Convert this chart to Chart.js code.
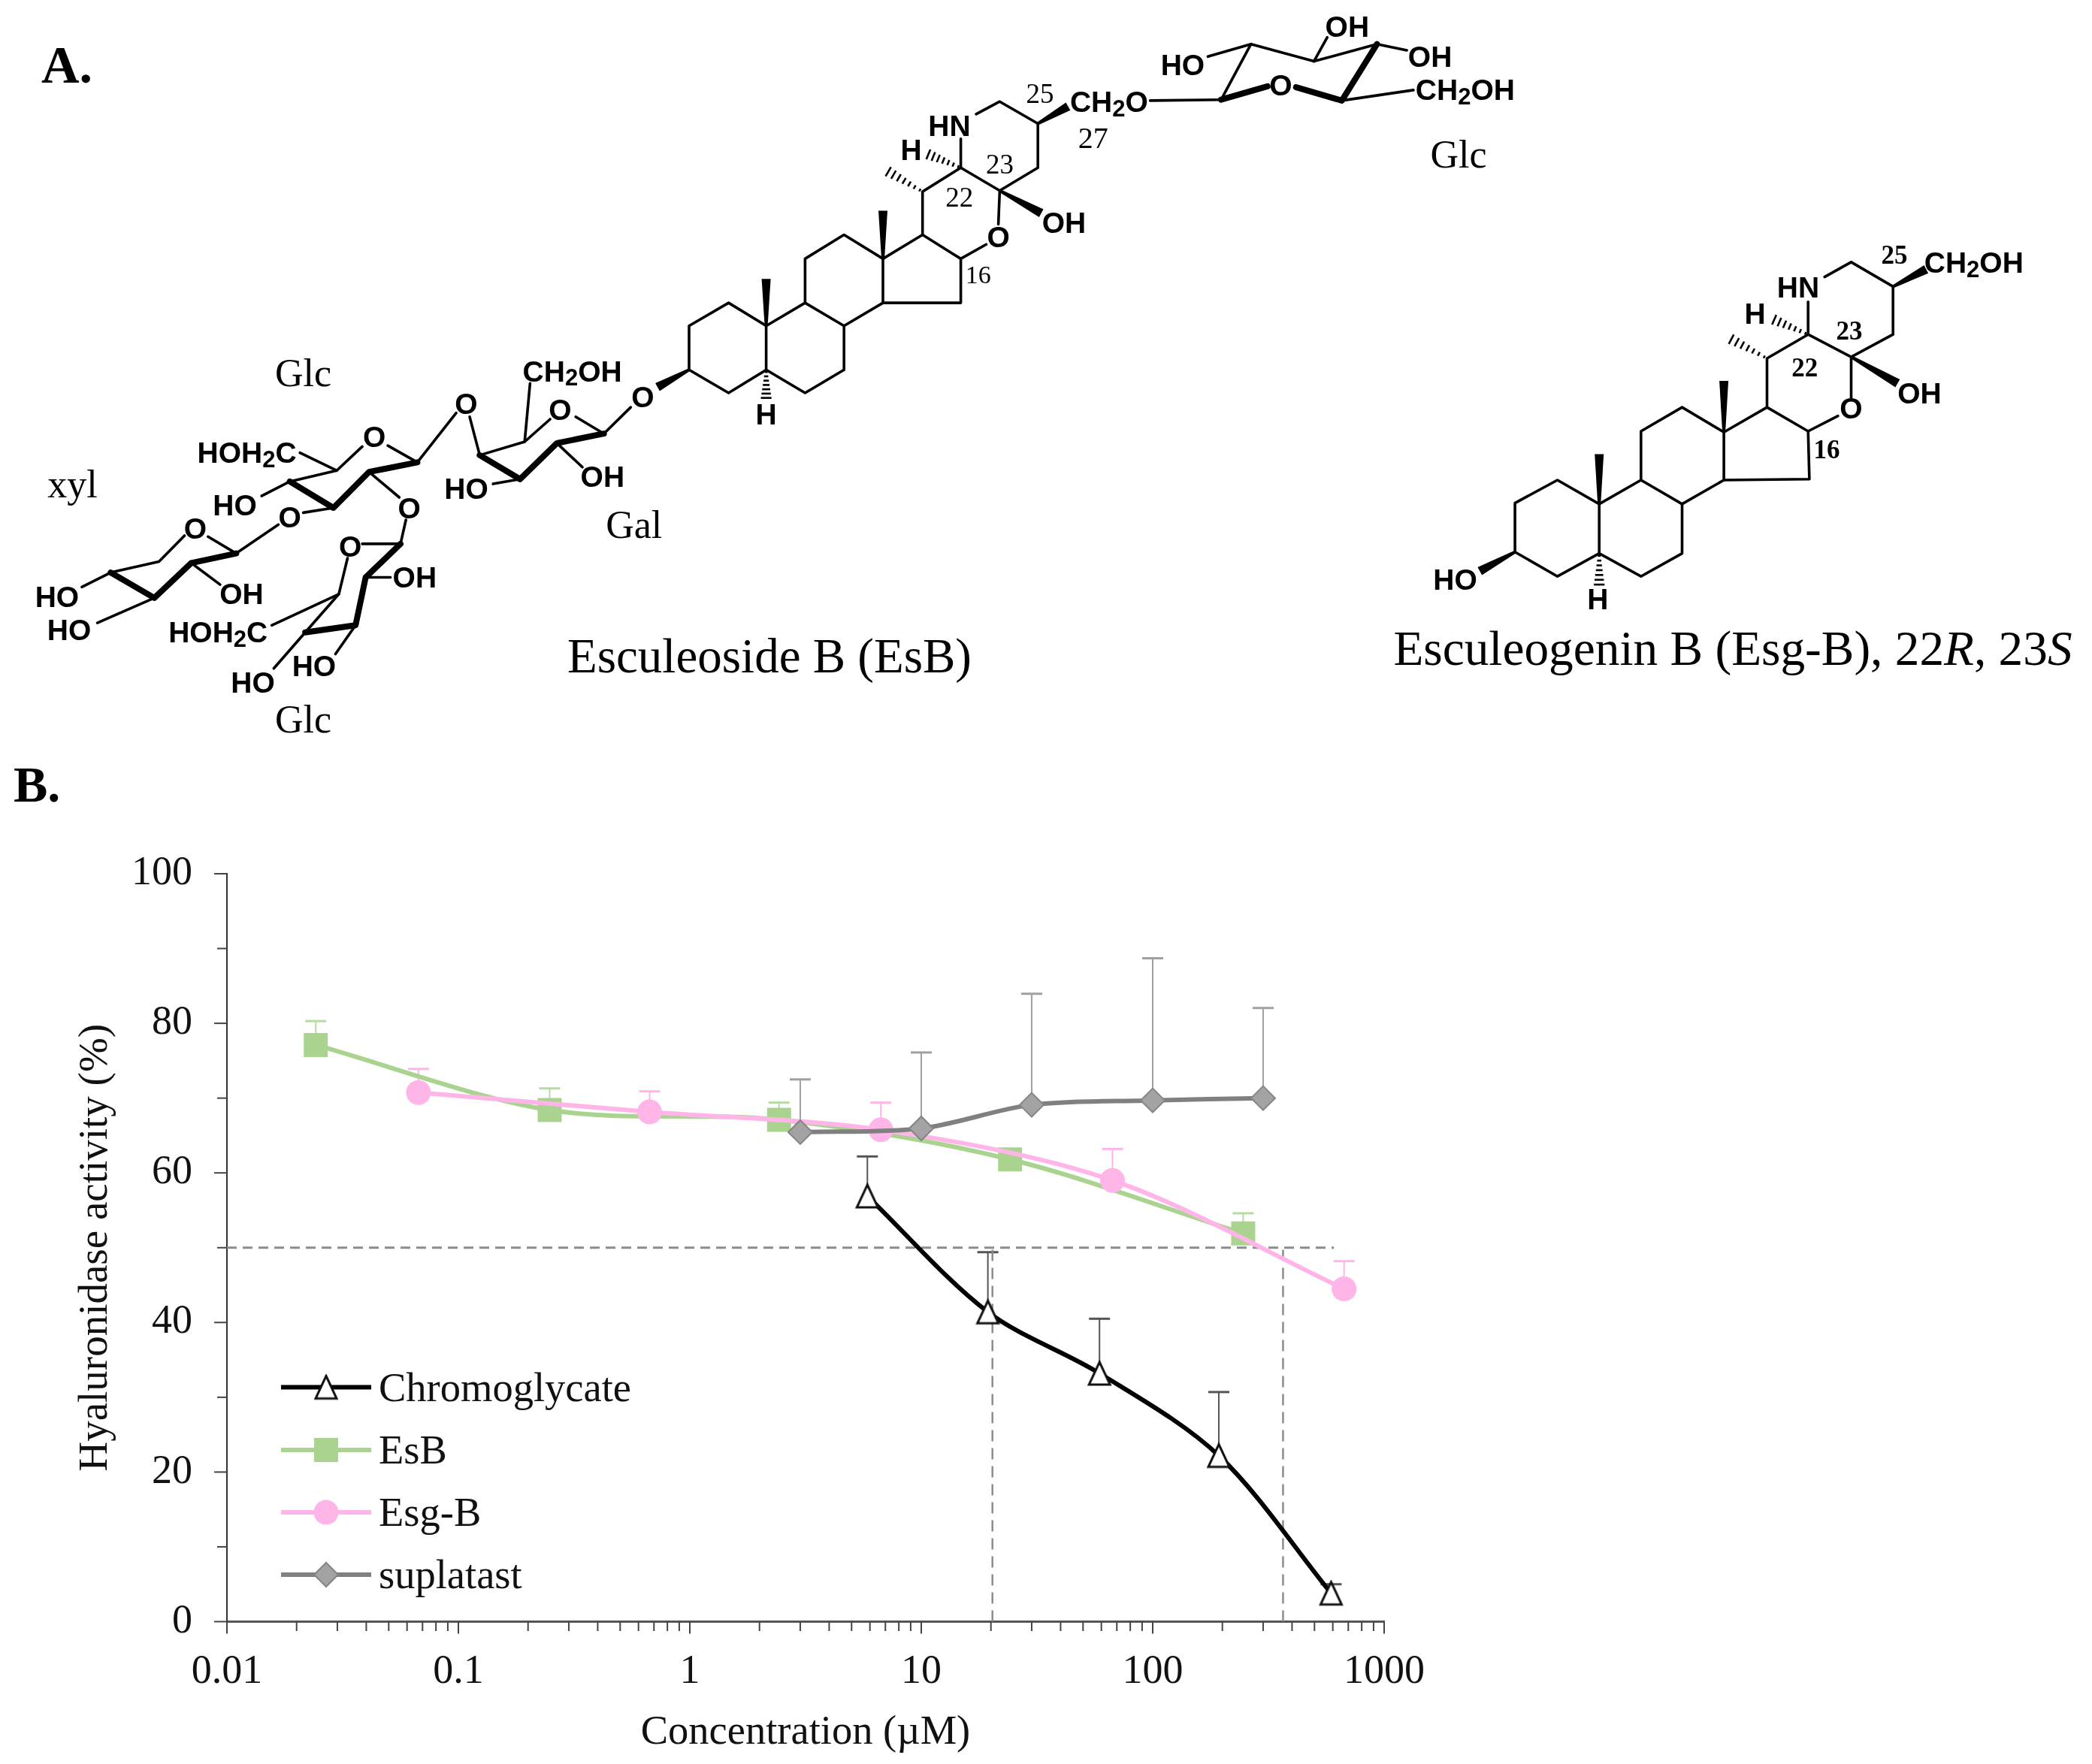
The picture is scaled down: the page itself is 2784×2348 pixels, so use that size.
<!DOCTYPE html>
<html>
<head>
<meta charset="utf-8">
<title>Hyaluronidase activity</title>
<script src="https://cdn.jsdelivr.net/npm/chart.js@4/dist/chart.umd.js"></script>
<style>
  html, body { margin: 0; padding: 0; background: #fff; }
  #wrap { position: relative; width: 2784px; height: 2348px; overflow: hidden; }
  #myChart { position: absolute; left: 0; top: 0; }
  #structures { position: absolute; left: 0; top: 0; pointer-events: none; }
</style>
</head>
<body>
<div id="wrap">
  <canvas id="myChart" width="2784" height="2348"></canvas>
  <div id="structures"></div>
</div>
<script>
// values
const chromoX = [5.85, 19.4, 58.9, 193, 590]
const chromoY = [56.9, 41.4, 33.2, 22.2, 3.8]
const chromoTop = [62.2, 49.4, 40.5, 30.7, 5.0]

const esbX = [0.0242, 0.248, 2.43, 24.2, 246]
const esbY = [77.1, 68.4, 67.1, 61.8, 51.9]
const esbTop = [80.3, 71.3, 69.4, 62.6, 54.6]

const esgX = [0.0672, 0.67, 6.69, 67, 671]
const esgY = [70.75, 68.15, 65.76, 59.0, 44.5]
const esgTop = [73.9, 70.9, 69.4, 63.2, 48.2]

const supX = [3, 10, 30, 100, 300]
const supY = [65.45, 65.95, 69.1, 69.7, 70.0]
const supTop = [72.5, 76.1, 83.95, 88.7, 82.05]

// dashed guide lines
const guideH = [[0.01, 50], [607, 50]]
const guideV1 = [[20.3, 0], [20.3, 50.6]]
const guideV2 = [[365.7, 0], [365.7, 50.6]]

const xDecades = [0.01, 0.1, 1, 10, 100, 1000]
const xMantissas = [2, 3, 4, 5, 6, 7, 8, 9]
const yMajor = [0, 20, 40, 60, 80, 100]
const yMinor = [10, 30, 50, 70, 90]

const legendNames = ['Chromoglycate', 'EsB', 'Esg-B', 'suplatast']

const serif = '"Liberation Serif", serif'

function pts(xs, ys) {
  return xs.map((x, i) => ({ x: x, y: ys[i] }))
}
function pairs(list) {
  return list.map(p => ({ x: p[0], y: p[1] }))
}

// open triangle marker, Chart.js own triangle is too wide
function triangleMarker() {
  const c = document.createElement('canvas')
  c.width = 36
  c.height = 36
  const g = c.getContext('2d')
  g.beginPath()
  g.moveTo(18, 3)
  g.lineTo(32, 33)
  g.lineTo(4, 33)
  g.closePath()
  g.fillStyle = '#fff'
  g.fill()
  g.lineWidth = 3
  g.lineJoin = 'miter'
  g.strokeStyle = '#111'
  g.stroke()
  return c
}
const triangle = triangleMarker()

function serie(name, xs, ys, tops, line, fill, style, radius, order, extra) {
  return Object.assign({
    label: name,
    data: pts(xs, ys),
    errTop: tops,
    borderColor: line,
    borderWidth: 6,
    tension: 0.32,
    pointStyle: style,
    pointRadius: radius,
    pointBackgroundColor: fill,
    pointBorderColor: fill,
    pointBorderWidth: 0,
    order: order
  }, extra || {})
}
function guide(list, width, dash) {
  return {
    label: 'guide',
    data: pairs(list),
    borderColor: '#8c8c8c',
    borderWidth: width,
    borderDash: dash,
    pointRadius: 0,
    tension: 0,
    order: 9
  }
}

const datasets = [
  serie(legendNames[0], chromoX, chromoY, chromoTop, '#000', '#fff', triangle, 18, 1,
    { errColor: '#555' }),
  serie(legendNames[1], esbX, esbY, esbTop, '#a9d38f', '#a9d38f', 'rect', 22.6, 4,
    { errColor: '#b7dca2' }),
  serie(legendNames[2], esgX, esgY, esgTop, '#ffb5e8', '#ffb5e8', 'circle', 16.5, 3,
    { errColor: '#ffb5e8' }),
  serie(legendNames[3], supX, supY, supTop, '#808080', '#a3a3a3', 'rectRot', 16, 2,
    { errColor: '#a0a0a0', pointBorderColor: '#858585', pointBorderWidth: 2 }),
  guide(guideH, 3, [13, 8]),
  guide(guideV1, 2.5, [15, 9]),
  guide(guideV2, 2.5, [15, 9])
]

const errorBars = {
  id: 'errorBars',
  beforeDatasetsDraw(chart) {
    const ctx = chart.ctx
    const sx = chart.scales.x
    const sy = chart.scales.y
    chart.data.datasets.forEach(ds => {
      if (!ds.errTop) return
      ds.data.forEach((p, i) => {
        const x = sx.getPixelForValue(p.x)
        const top = sy.getPixelForValue(ds.errTop[i])
        ctx.save()
        ctx.strokeStyle = ds.errColor
        ctx.lineWidth = 2
        ctx.beginPath()
        ctx.moveTo(x, sy.getPixelForValue(p.y))
        ctx.lineTo(x, top)
        ctx.stroke()
        ctx.lineWidth = 3
        ctx.beginPath()
        ctx.moveTo(x - 14, top)
        ctx.lineTo(x + 14, top)
        ctx.stroke()
        ctx.restore()
      })
    })
  }
}

// tick marks differ in length (major / minor), the library has one length only
const axisTicks = {
  id: 'axisTicks',
  afterDraw(chart) {
    const ctx = chart.ctx
    const sx = chart.scales.x
    const sy = chart.scales.y
    const area = chart.chartArea
    ctx.save()
    ctx.strokeStyle = '#444'
    ctx.lineWidth = 2
    function tick(x1, y1, x2, y2) {
      ctx.beginPath()
      ctx.moveTo(x1, y1)
      ctx.lineTo(x2, y2)
      ctx.stroke()
    }
    yMajor.forEach(v => {
      const y = sy.getPixelForValue(v)
      tick(area.left - 17, y, area.left, y)
    })
    yMinor.forEach(v => {
      const y = sy.getPixelForValue(v)
      tick(area.left - 13, y, area.left, y)
    })
    xDecades.forEach(d => {
      const x = sx.getPixelForValue(d)
      tick(x, area.bottom, x, area.bottom + 16)
      if (d === 1000) return
      xMantissas.forEach(m => {
        const xm = sx.getPixelForValue(d * m)
        tick(xm, area.bottom, xm, area.bottom + 12.5)
      })
    })
    ctx.restore()
  }
}

const lineLegend = {
  id: 'lineLegend',
  afterDraw(chart) {
    const ctx = chart.ctx
    const rows = [1846.5, 1930, 2013, 2096]
    ctx.save()
    legendNames.forEach((name, i) => {
      const ds = chart.data.datasets[i]
      const y = rows[i]
      ctx.strokeStyle = ds.borderColor
      ctx.lineWidth = ds.borderWidth
      ctx.beginPath()
      ctx.moveTo(374, y)
      ctx.lineTo(494, y)
      ctx.stroke()
      ctx.fillStyle = ds.pointBackgroundColor
      ctx.strokeStyle = ds.pointBorderColor
      ctx.lineWidth = ds.pointBorderWidth
      Chart.helpers.drawPoint(ctx, {
        pointStyle: ds.pointStyle,
        radius: ds.pointRadius,
        borderWidth: ds.pointBorderWidth,
        rotation: 0
      }, 434, y)
      ctx.fillStyle = '#111'
      ctx.font = '54.5px ' + serif
      ctx.textAlign = 'left'
      ctx.textBaseline = 'middle'
      ctx.fillText(name, 504, y + 4)
    })
    ctx.restore()
  }
}

const ctx = document.getElementById('myChart')
const myChart = new Chart(ctx, {
  type: 'line',
  data: { datasets: datasets },
  plugins: [errorBars, axisTicks, lineLegend],
  options: {
    responsive: false,
    animation: false,
    devicePixelRatio: 1,
    layout: { padding: { top: 1163, right: 942, left: 0, bottom: 0 } },
    plugins: {
      legend: { display: false },
      tooltip: { enabled: false }
    },
    scales: {
      x: {
        type: 'logarithmic',
        min: 0.01,
        max: 1000,
        afterFit(scale) { scale.height = 189.5 },
        afterBuildTicks(scale) { scale.ticks = xDecades.map(v => ({ value: v })) },
        grid: { display: false, drawTicks: false },
        border: { display: true, color: '#555', width: 3 },
        ticks: {
          autoSkip: false,
          maxRotation: 0,
          padding: 35,
          color: '#111',
          font: { family: serif, size: 54 },
          callback: v => String(v)
        },
        title: {
          display: true,
          text: 'Concentration (µM)',
          color: '#111',
          font: { family: serif, size: 54.5 },
          padding: { top: 0, bottom: 9 }
        }
      },
      y: {
        type: 'linear',
        min: 0,
        max: 100,
        afterFit(scale) { scale.width = 302 },
        grid: { display: false, drawTicks: false },
        border: { display: true, color: '#333', width: 2 },
        ticks: {
          stepSize: 20,
          padding: 46,
          color: '#111',
          font: { family: serif, size: 54 }
        },
        title: {
          display: true,
          text: 'Hyaluronidase activity (%)',
          color: '#111',
          font: { family: serif, size: 55 },
          padding: { top: 95, bottom: 0 }
        }
      }
    }
  }
})

// Panel A: structures, not chart data. Coordinates are in the two zoomed frames I read them from
const frameL = { sx: 1.12, sy: 1.568, ox: 0 }
const frameR = { sx: 1.133, sy: 1.568, ox: 1400 }

const esbPart = {
  thin: [
    [1027,680, 1086,632, 1142,680, 1142,772, 1086,820, 1027,772, 1027,680],
    [1142,680, 1200,632, 1258,680, 1258,772, 1200,820, 1142,772],
    [1200,632, 1200,540, 1258,490, 1316,540, 1316,632, 1258,680],
    [1316,540, 1375,490, 1432,540, 1432,632, 1316,632],
    [1375,490, 1375,400, 1432,350, 1490,398, 1547,350, 1547,258, 1490,212, 1455,238],
    [1432,290, 1432,350],
    [1432,540, 1470,510],
    [1488,468, 1490,398],
    [940,850, 900,905, 858,870],
    [820,875, 782,922, 715,950, 700,870],
    [782,922, 790,800],
    [830,925, 868,975],
    [775,1000, 735,1010],
    [680,862, 622,965, 578,930],
    [540,932, 502,982, 432,1005, 390,1035],
    [502,982, 447,945],
    [497,1060, 452,1070],
    [550,985, 595,1038],
    [415,1095, 352,1155, 310,1120],
    [275,1118, 237,1172, 165,1195, 122,1225],
    [285,1175, 328,1220],
    [230,1248, 145,1300],
    [605,1085, 597,1135, 540,1135],
    [518,1165, 505,1240, 455,1320],
    [545,1205, 582,1205],
    [530,1305, 500,1365],
    [455,1320, 408,1395],
    [505,1240, 405,1305]
  ],
  bold: [
    [900,905, 830,925, 775,1000, 715,950],
    [622,965, 550,985, 497,1060, 432,1005],
    [352,1155, 285,1175, 230,1248, 165,1195],
    [597,1135, 545,1205, 530,1305, 455,1320]
  ],
  wedge: [
    [1142,680, 1142,582],
    [1316,540, 1316,440],
    [1490,398, 1552,445],
    [1027,772, 980,808],
    [1547,258, 1592,222]
  ],
  hash: [
    [1432,350, 1380,320],
    [1375,400, 1320,355],
    [1142,772, 1142,835]
  ],
  atoms: [
    ['HN',1415,262], ['H',1358,312], ['O',1488,495], ['H',1142,865], ['O',958,828],
    ['CH2OH',853,775], ['O',835,855], ['OH',898,995], ['HO',695,1020], ['O',695,843],
    ['HOH2C',368,945], ['O',558,912], ['HO',350,1055], ['O',432,1080], ['O',610,1060],
    ['O',291,1103], ['OH',360,1240], ['HO',85,1245], ['HO',103,1315],
    ['O',522,1140], ['OH',618,1205], ['HO',468,1390], ['HO',377,1425], ['HOH2C',325,1320]
  ],
  labels: [
    ['Glc',452,778,52], ['xyl',108,1010,52], ['Gal',945,1095,52], ['Glc',452,1502,52],
    ['16',1458,573,34], ['22',1430,412,37], ['23',1490,343,37], ['25',1550,195,37]
  ]
}

const esgPart = {
  thin: [
    // glucose of EsB
    [148,210, 255,208],
    [255,208, 300,92, 395,128, 490,92],
    [300,92, 235,118],
    [395,128, 415,78],
    [490,92, 535,105],
    [437,210, 545,188],
    // Esg-B
    [698,1050, 762,1002, 825,1052, 825,1155, 762,1203, 698,1152, 698,1050],
    [825,1052, 888,1002, 950,1052, 950,1155, 888,1203, 825,1155],
    [888,1002, 888,900, 950,850, 1013,902, 1013,1002, 950,1052],
    [1013,902, 1078,850, 1140,900, 1142,1000, 1013,1002],
    [1078,850, 1078,748, 1140,698, 1205,745, 1268,698, 1268,598, 1205,547, 1165,578],
    [1140,630, 1140,698],
    [1140,900, 1185,868],
    [1205,830, 1205,745]
  ],
  bold: [
    [255,208, 325,180],
    [368,182, 437,210, 490,92]
  ],
  wedge: [
    [1205,745, 1275,800],
    [1268,598, 1318,562],
    [698,1152, 645,1192],
    [825,1052, 825,948],
    [1013,902, 1013,795]
  ],
  hash: [
    [1140,698, 1085,665],
    [1078,748, 1020,705],
    [825,1155, 825,1225]
  ],
  atoms: [
    ['CH2O',86,213], ['O',345,178], ['HO',197,135], ['OH',445,55], ['OH',570,118], ['CH2OH',623,188],
    ['OH',18,465], ['HN',1125,600], ['O',1205,852], ['OH',1308,820], ['H',1060,655],
    ['CH2OH',1390,548], ['HO',608,1210], ['H',823,1250]
  ],
  labels: [
    ['27',62,287,40], ['Glc',613,322,52],
    ['25',1270,533,35,'bold'], ['23',1202,690,35,'bold'], ['22',1135,767,35,'bold'], ['16',1168,938,35,'bold']
  ]
}

function atomText(label, x, y) {
  const inner = label.split(/(\d)/).map((s, i) =>
    i % 2 ? `<tspan dy="8" font-size="31">${s}</tspan><tspan dy="-8" font-size="39">\u200b</tspan>` : s
  ).join('')
  return `<text x="${x}" y="${y}" text-anchor="middle" dominant-baseline="central" font-family="Liberation Sans" font-weight="bold" font-size="39" fill="#000">${inner}</text>`
}

function drawPart(part, f) {
  const px = x => (x / f.sx + f.ox).toFixed(1)
  const py = y => (y / f.sy).toFixed(1)
  let out = ''
  function poly(list, width) {
    list.forEach(l => {
      let d = ''
      for (let i = 0; i < l.length; i += 2) d += px(l[i]) + ',' + py(l[i + 1]) + ' '
      out += `<polyline points="${d}" fill="none" stroke="#000" stroke-width="${width}" stroke-linejoin="round" stroke-linecap="round"/>`
    })
  }
  poly(part.thin, 3.6)
  poly(part.bold, 8)
  part.wedge.forEach(w => {
    const x1 = +px(w[0]), y1 = +py(w[1]), x2 = +px(w[2]), y2 = +py(w[3])
    const len = Math.hypot(x2 - x1, y2 - y1)
    const nx = -(y2 - y1) / len, ny = (x2 - x1) / len
    out += `<polygon points="${x1 + nx * 2},${y1 + ny * 2} ${x2 + nx * 6},${y2 + ny * 6} ${x2 - nx * 6},${y2 - ny * 6} ${x1 - nx * 2},${y1 - ny * 2}" fill="#000"/>`
  })
  part.hash.forEach(h => {
    const x1 = +px(h[0]), y1 = +py(h[1]), x2 = +px(h[2]), y2 = +py(h[3])
    const len = Math.hypot(x2 - x1, y2 - y1)
    const nx = -(y2 - y1) / len, ny = (x2 - x1) / len
    const n = 7
    for (let i = 0; i < n; i++) {
      const t = (i + 0.5) / n
      const hw = 1.5 + 6 * t
      const cx = x1 + (x2 - x1) * t, cy = y1 + (y2 - y1) * t
      out += `<line x1="${cx + nx * hw}" y1="${cy + ny * hw}" x2="${cx - nx * hw}" y2="${cy - ny * hw}" stroke="#000" stroke-width="2.6"/>`
    }
  })
  part.atoms.forEach(a => {
    out += atomText(a[0], px(a[1]), py(a[2]))
  })
  part.labels.forEach(t => {
    out += `<text x="${px(t[1])}" y="${py(t[2])}" text-anchor="middle" dominant-baseline="central" font-family="Liberation Serif" font-size="${t[3]}" font-weight="${t[4] || 'normal'}" fill="#000">${t[0]}</text>`
  })
  return out
}

document.getElementById('structures').innerHTML =
  `<svg xmlns="http://www.w3.org/2000/svg" width="2784" height="2348">` +
  drawPart(esbPart, frameL) +
  drawPart(esgPart, frameR) +
  `<text x="55" y="110" font-family="Liberation Serif" font-weight="bold" font-size="70" fill="#000">A.</text>` +
  `<text x="18" y="1067" font-family="Liberation Serif" font-weight="bold" font-size="68" fill="#000">B.</text>` +
  `<text x="1024" y="895" text-anchor="middle" font-family="Liberation Serif" font-size="65" fill="#000">Esculeoside B (EsB)</text>` +
  `<text x="2306" y="885" text-anchor="middle" font-family="Liberation Serif" font-size="65.3" fill="#000">Esculeogenin B (Esg-B), 22<tspan font-style="italic">R</tspan>, 23<tspan font-style="italic">S</tspan></text>` +
  `</svg>`
</script>
</body>
</html>
